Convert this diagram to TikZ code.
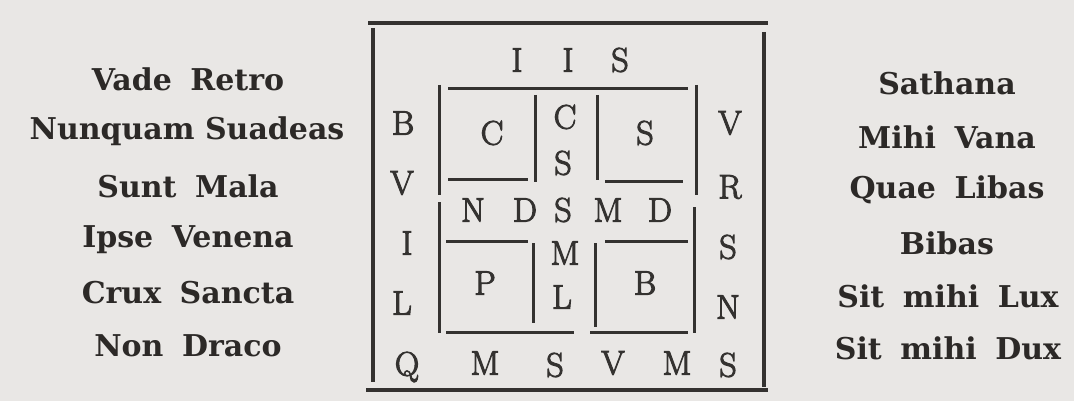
\documentclass[tikz,border=0pt]{standalone}
\usepackage{fontspec}
\newfontfamily\sidefont{DejaVu Serif}
\newfontfamily\letfont{Latin Modern Roman}[FakeBold=3]
\newcommand{\gap}{\hspace{0.62em}}
\begin{document}
\begin{tikzpicture}[x=1pt,y=-1pt,
  ink/.style={draw=inkc,line cap=butt},
  frame/.style={ink,line width=4.5pt},
  grid/.style={ink,line width=3pt},
  lt/.style={text=inkc,inner sep=0pt,font=\letfont\fontsize{34}{34}\selectfont},
  side/.style={text=sidec,inner sep=0pt,font=\sidefont\bfseries\fontsize{30}{30}\selectfont}]
\definecolor{inkc}{HTML}{343230}
\definecolor{sidec}{HTML}{2C2927}
\definecolor{paper}{HTML}{E9E7E5}
\fill[paper] (0,0) rectangle (1074,401);
\useasboundingbox (0,0) rectangle (1074,401);
% outer frame
\draw[frame] (368,23) -- (768,23);
\draw[frame] (373,28) -- (373,382);
\draw[frame] (764,32) -- (764,387);
\draw[frame] (366,390) -- (768,390);
% inner frame
\draw[grid] (448,89) -- (688,89);
\draw[grid] (446,332) -- (574,332);
\draw[grid] (590,332) -- (688,332);
\draw[grid] (439,85) -- (439,195);
\draw[grid] (439,202) -- (439,333);
\draw[grid] (696,85) -- (696,195);
\draw[grid] (694,207) -- (694,333);
% cells
\draw[grid] (448,180) -- (528,180);
\draw[grid] (535,95) -- (535,182);
\draw[grid] (597,95) -- (597,180);
\draw[grid] (605,182) -- (683,182);
\draw[grid] (446,241) -- (528,241);
\draw[grid] (533,243) -- (533,323);
\draw[grid] (595,243) -- (595,327);
\draw[grid] (605,241) -- (688,241);
% top row
\node[lt] (t1) at (517,60) {I};
\node[lt] (t2) at (568,60) {I};
\node[lt] (t3) at (620,60) {S};
% left column
\node[lt] (l1) at (403,123) {B};
\node[lt] (l2) at (402,183) {V};
\node[lt] (l3) at (407,243) {I};
\node[lt] (l4) at (402,303) {L};
\node[lt] (l5) at (407,367) {Q};
% right column
\node[lt] (r1) at (730,123) {V};
\node[lt] (r2) at (730,187) {R};
\node[lt] (r3) at (728,247) {S};
\node[lt] (r4) at (728,307) {N};
\node[lt] (r5) at (728,365) {S};
% bottom row
\node[lt] (b1) at (485,363) {M};
\node[lt] (b2) at (555,365) {S};
\node[lt] (b3) at (613,363) {V};
\node[lt] (b4) at (677,363) {M};
% cells
\node[lt] (c1) at (492,133) {C};
\node[lt] (c2) at (645,133) {S};
\node[lt] (c3) at (485,283) {P};
\node[lt] (c4) at (645,283) {B};
% centre column
\node[lt] (m1) at (565,117) {C};
\node[lt] (m2) at (563,163) {S};
\node[lt] (m3) at (563,210) {S};
\node[lt] (m4) at (565,253) {M};
\node[lt] (m5) at (562,297) {L};
% middle row
\node[lt] (h1) at (473,210) {N};
\node[lt] (h2) at (525,210) {D};
\node[lt] (h3) at (608,210) {M};
\node[lt] (h4) at (660,210) {D};
% left text
\node[side] (a1) at (188,79) {Vade\gap Retro};
\node[side] (a2) at (187,131) {Nunquam Suadeas};
\node[side] (a3) at (188,186) {Sunt\gap Mala};
\node[side] (a4) at (188,240) {Ipse\gap Venena};
\node[side] (a5) at (188,293) {Crux\gap Sancta};
\node[side] (a6) at (188,346) {Non\gap Draco};
% right text
\node[side] (s1) at (947,83) {Sathana};
\node[side] (s2) at (947,137) {Mihi\gap Vana};
\node[side] (s3) at (947,190) {Quae\gap Libas};
\node[side] (s4) at (947,243) {Bibas};
\node[side] (s5) at (948,296) {Sit\gap mihi\gap Lux};
\node[side] (s6) at (948,348) {Sit\gap mihi\gap Dux};
\end{tikzpicture}
\end{document}
